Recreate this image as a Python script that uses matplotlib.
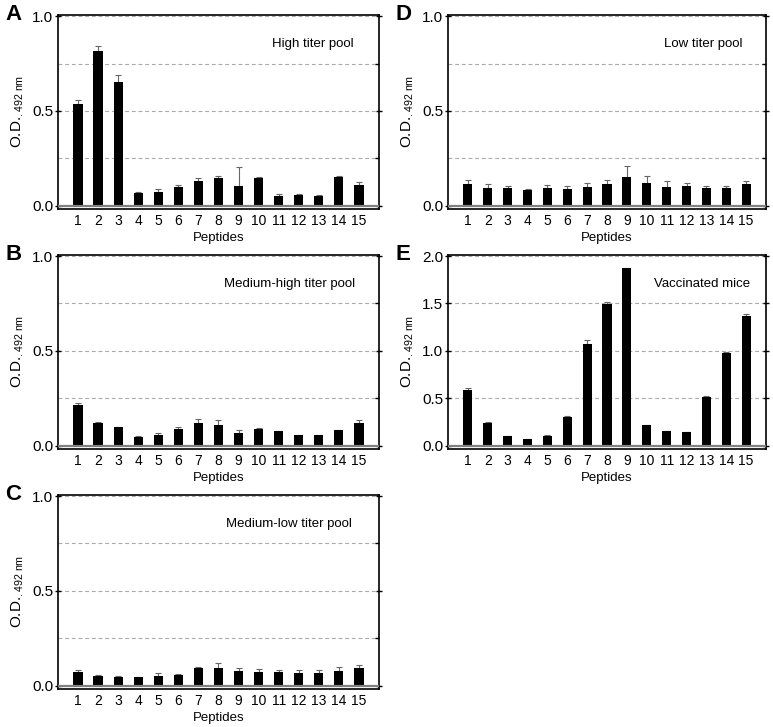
import numpy as np
import matplotlib as mpl
import matplotlib.pyplot as plt

mpl.rcParams['font.family'] = 'Liberation Sans'
mpl.rcParams['mathtext.fontset'] = 'custom'
mpl.rcParams['mathtext.rm'] = 'Liberation Sans'
mpl.rcParams['mathtext.it'] = 'Liberation Sans:italic'

peptides = list(range(1, 16))

a_mean = [0.538, 0.817, 0.654, 0.067, 0.074, 0.097, 0.132, 0.148, 0.104, 0.148, 0.053, 0.058, 0.053, 0.151, 0.109]
a_err = [0.019, 0.023, 0.033, 0.005, 0.012, 0.012, 0.012, 0.010, 0.098, 0.003, 0.009, 0.002, 0.005, 0.004, 0.014]

b_mean = [0.216, 0.121, 0.098, 0.047, 0.054, 0.088, 0.118, 0.107, 0.067, 0.090, 0.076, 0.054, 0.054, 0.083, 0.121]
b_err = [0.009, 0.002, 0.002, 0.002, 0.013, 0.012, 0.023, 0.028, 0.014, 0.001, 0.001, 0.002, 0.002, 0.001, 0.014]

c_mean = [0.070, 0.053, 0.047, 0.044, 0.051, 0.058, 0.095, 0.093, 0.076, 0.070, 0.070, 0.067, 0.069, 0.077, 0.091]
c_err = [0.011, 0.001, 0.002, 0.002, 0.014, 0.004, 0.003, 0.025, 0.017, 0.018, 0.013, 0.014, 0.012, 0.021, 0.018]

d_mean = [0.112, 0.095, 0.091, 0.084, 0.091, 0.090, 0.100, 0.112, 0.153, 0.118, 0.100, 0.104, 0.095, 0.095, 0.116]
d_err = [0.022, 0.017, 0.011, 0.004, 0.016, 0.012, 0.018, 0.023, 0.058, 0.038, 0.030, 0.014, 0.007, 0.007, 0.012]

e_mean = [0.583, 0.243, 0.098, 0.070, 0.105, 0.306, 1.076, 1.497, 1.870, 0.218, 0.155, 0.144, 0.517, 0.981, 1.371]
e_err = [0.022, 0.007, 0.004, 0.004, 0.004, 0.003, 0.038, 0.014, 0.007, 0.003, 0.002, 0.002, 0.002, 0.007, 0.021]

panels = [
    # letter, title, mean, err, ymax, axes rect, title x
    ('A', 'High titer pool', a_mean, a_err, 1.0, [0.075, 0.7129, 0.4153, 0.2665], 0.92),
    ('B', 'Medium-high titer pool', b_mean, b_err, 1.0, [0.075, 0.3828, 0.4153, 0.2665], 0.925),
    ('C', 'Medium-low titer pool', c_mean, c_err, 1.0, [0.075, 0.0527, 0.4153, 0.2665], 0.915),
    ('D', 'Low titer pool', d_mean, d_err, 1.0, [0.5796, 0.7129, 0.4114, 0.2665], 0.925),
    ('E', 'Vaccinated mice', e_mean, e_err, 2.0, [0.5796, 0.3828, 0.4114, 0.2665], 0.95),
]

fig = plt.figure(figsize=(7.73, 7.27), dpi=100)

for letter, title, mean, err, ymax, rect, tx in panels:
    ax = fig.add_axes(rect)
    ax.bar(peptides, mean, width=0.46, color='black', zorder=3)
    ax.errorbar(peptides, mean, yerr=[np.zeros(len(err)), err], fmt='none',
                ecolor='#666666', elinewidth=0.8, capsize=2.2, capthick=0.8, zorder=2)
    ax.axhline(0, color='#808080', lw=1.6, zorder=4)
    for g in np.linspace(0, ymax, 5)[1:]:
        ax.axhline(g, color='#aaaaaa', lw=0.8, ls=(0, (3.5, 2.5)), zorder=1)

    ax.set_xlim(0, 16)
    ax.set_ylim(-0.016 * ymax, 1.006 * ymax)
    ax.set_xticks(peptides)
    ax.set_yticks(np.linspace(0, ymax, 3) if ymax == 1.0 else np.linspace(0, ymax, 5))
    ax.set_yticks(np.linspace(0, ymax, 5), minor=True)
    ax.yaxis.set_major_formatter(mpl.ticker.FormatStrFormatter('%.1f'))
    ax.tick_params(axis='x', length=0, labelsize=10, pad=4)
    ax.tick_params(axis='y', which='major', direction='inout', length=5, width=1,
                   right=True, labelsize=11, pad=1)
    ax.tick_params(axis='y', which='minor', direction='in', length=3, width=1,
                   left=False, right=True)
    for s in ax.spines.values():
        s.set_linewidth(1.2)

    ax.set_xlabel('Peptides', fontsize=9.5, labelpad=3)
    ax.set_ylabel(r'O.D.$_{\mathregular{.492\ nm}}$', fontsize=11, labelpad=4)
    ax.text(tx, 0.85, title, transform=ax.transAxes, ha='right', va='center', fontsize=9.5)
    ax.text(-0.165, 1.0, letter, transform=ax.transAxes, ha='left', va='center',
            fontsize=16, fontweight='bold')

fig.savefig('out.png', dpi=100)
